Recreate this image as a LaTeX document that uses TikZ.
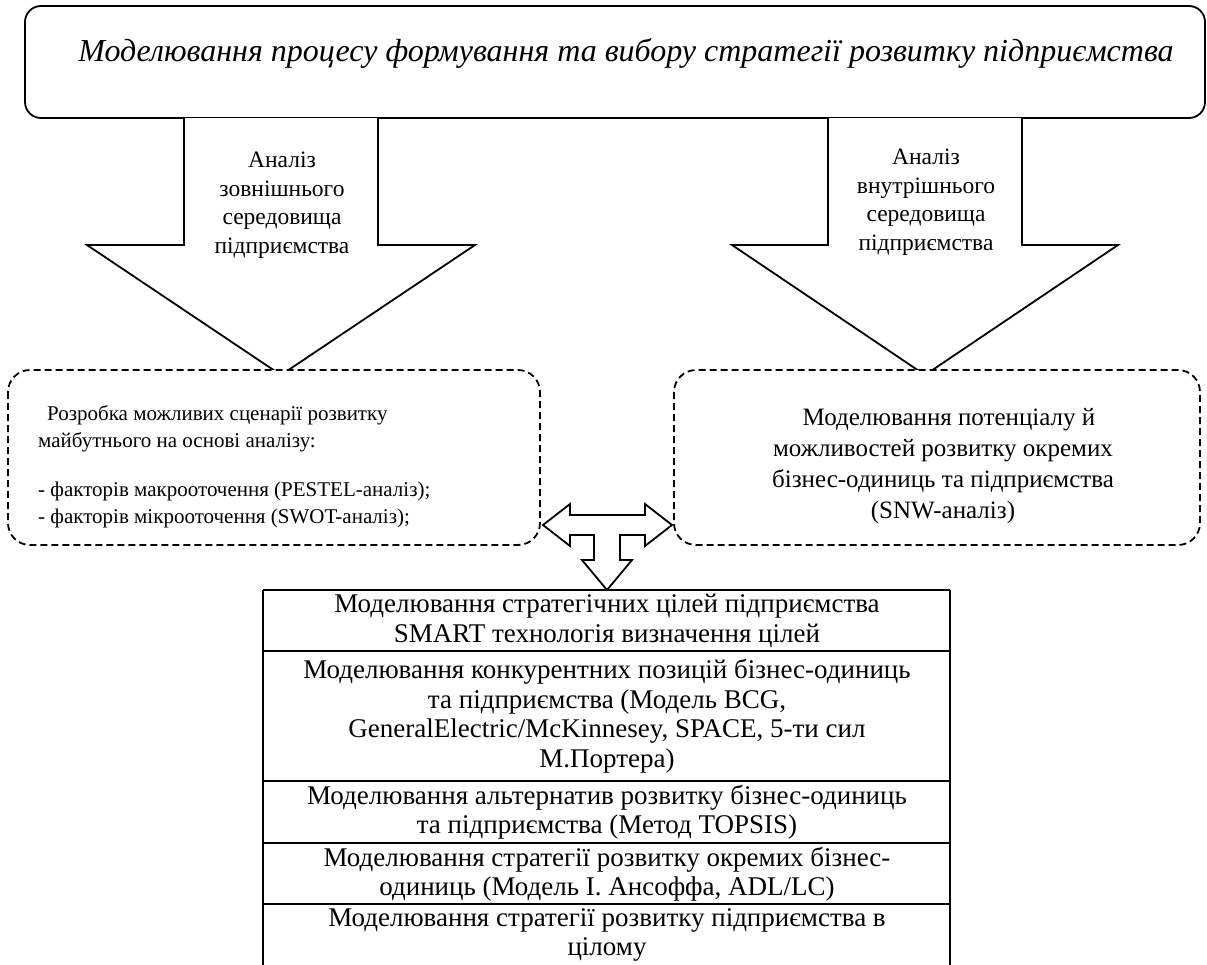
\documentclass[tikz,border=0pt]{standalone}
\usepackage{fontspec}
\setmainfont{Liberation Serif}
\begin{document}
\begin{tikzpicture}[x=1pt,y=-1pt,
  solid line/.style={line width=1.8pt, line join=miter},
  dbox/.style={line width=1.8pt, dash pattern=on 7pt off 4pt, rounded corners=22pt, fill=white},
  atext/.style={font=\fontsize{23.5}{28.5}\selectfont, align=center, inner sep=0pt},
  ttext/.style={font=\fontsize{27}{29.5}\selectfont, align=center, inner sep=0pt},
  lbtext/.style={font=\fontsize{21}{27}\selectfont, inner sep=0pt},
  rbtext/.style={font=\fontsize{25}{31}\selectfont, inner sep=0pt},
]
\useasboundingbox (0,0) rectangle (1207,964);
\clip (0,0) rectangle (1207,964);

% top box
\draw[solid line, rounded corners=16pt] (25,6) rectangle (1205,118);
\node[font=\itshape\fontsize{32}{36}\selectfont, inner sep=0pt] (title) at (626,53)
  {Моделювання процесу формування та вибору стратегії розвитку підприємства};

% left block arrow
\coordinate (lA) at (184,118);
\coordinate (lB) at (378,118);
\draw[solid line, fill=white] (lA) -- (184,245) -- (87,245) -- (281,375) -- (475,245) -- (378,245) -- (lB);
\node[atext] (ltext) at (282,205) {Аналіз\\зовнішнього\\середовища\\підприємства};

% right block arrow
\coordinate (rA) at (828,118);
\coordinate (rB) at (1022,118);
\draw[solid line, fill=white] (rA) -- (828,245) -- (732,245) -- (925,375) -- (1118,245) -- (1022,245) -- (rB);
\node[atext] (rtext) at (926,202) {Аналіз\\внутрішнього\\середовища\\підприємства};

% dashed boxes
\draw[dbox] (8,370) rectangle (540,545);
\node[lbtext, anchor=north west, align=left] (lbox) at (38,405)
  {\hspace*{9pt}Розробка можливих сценарії розвитку\\
   майбутнього на основі аналізу:\\[22pt]
   - факторів макрооточення (PESTEL-аналіз);\\
   - факторів мікрооточення (SWOT-аналіз);};

\draw[dbox] (674,370) rectangle (1200,545);
\node[rbtext, align=center] (rbox) at (943,466)
  {\hspace*{12pt}Моделювання потенціалу й\\
   можливостей розвитку окремих\\
   бізнес-одиниць та підприємства\\
   (SNW-аналіз)};

% T arrow
\draw[solid line, fill=white] (543,525) -- (570,504) -- (570,515) -- (645,515) -- (645,504) -- (672,525)
  -- (645,546) -- (645,535) -- (620,535) -- (620,560) -- (632,560) -- (607,590) -- (582,560)
  -- (594,560) -- (594,535) -- (570,535) -- (570,546) -- cycle;

% table
\draw[solid line] (263,590) -- (950,590);
\draw[solid line] (263,590) -- (263,975);
\draw[solid line] (950,590) -- (950,975);
\draw[solid line] (263,651) -- (950,651);
\draw[solid line] (263,781) -- (950,781);
\draw[solid line] (263,843) -- (950,843);
\draw[solid line] (263,904) -- (950,904);

\node[ttext] (r1) at (607,621) {Моделювання стратегічних цілей підприємства\\SMART технологія визначення цілей};
\node[ttext] (r2) at (607,716) {Моделювання конкурентних позицій бізнес-одиниць\\та підприємства (Модель BCG,\\GeneralElectric/McKinnesey, SPACE, 5-ти сил\\М.Портера)};
\node[ttext] (r3) at (607,812) {Моделювання альтернатив розвитку бізнес-одиниць\\та підприємства (Метод TOPSIS)};
\node[ttext] (r4) at (607,874) {Моделювання стратегії розвитку окремих бізнес-\\одиниць (Модель І. Ансоффа, ADL/LC)};
\node[ttext] (r5) at (607,935) {Моделювання стратегії розвитку підприємства в\\цілому};
\end{tikzpicture}
\end{document}
